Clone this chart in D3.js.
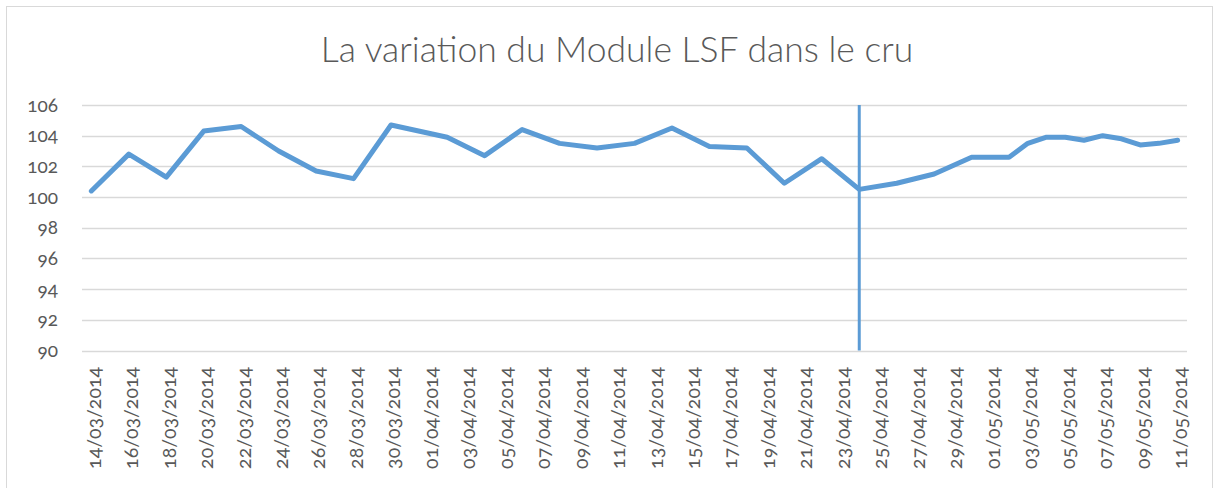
<!DOCTYPE html>
<html>
<head>
<meta charset="utf-8">
<script src="https://cdn.jsdelivr.net/npm/d3@7"></script>
<style>
  html, body { margin: 0; padding: 0; background: #fff; }
  svg text { font-family: Lato, "Open Sans", "DejaVu Sans", sans-serif; fill: #595959; font-variant-numeric: oldstyle-nums; }
</style>
</head>
<body>
<svg id="chart" width="1219" height="488"></svg>
<script>
const title = "La variation du Module LSF dans le cru";
const startDate = "2014-03-14";
const endDate = "2014-05-11";
const dates = [
  "2014-03-14","2014-03-16","2014-03-18","2014-03-20","2014-03-22","2014-03-24","2014-03-26","2014-03-28","2014-03-30",
  "2014-04-02","2014-04-04","2014-04-06","2014-04-08","2014-04-10","2014-04-12","2014-04-14","2014-04-16","2014-04-18",
  "2014-04-20","2014-04-22","2014-04-24","2014-04-26","2014-04-28","2014-04-30","2014-05-02","2014-05-03","2014-05-04",
  "2014-05-05","2014-05-06","2014-05-07","2014-05-08","2014-05-09","2014-05-10","2014-05-11"
];
const values = [
  100.4, 102.8, 101.3, 104.3, 104.6, 103.0, 101.7, 101.2, 104.7,
  103.9, 102.7, 104.4, 103.5, 103.2, 103.5, 104.5, 103.3, 103.2,
  100.9, 102.5, 100.5, 100.9, 101.5, 102.6, 102.6, 103.5, 103.9,
  103.9, 103.7, 104.0, 103.8, 103.4, 103.5, 103.7
];
const markerDate = "2014-04-24";
const markerRange = [90, 106];
const yTicks = [90, 92, 94, 96, 98, 100, 102, 104, 106];
const labelStepDays = 2;

const svg = d3.select("#chart");
const parse = d3.utcParse("%Y-%m-%d");
const fmt = d3.utcFormat("%d/%m/%Y");
const DAY = 86400000;

const t0 = parse(startDate), t1 = parse(endDate);
const x = d3.scaleUtc()
  .domain([new Date(+t0 - DAY / 2), new Date(+t1 + DAY / 2)])
  .range([82, 1187]);
const y = d3.scaleLinear().domain([90, 106]).range([350.5, 105]);

// chart border
svg.append("rect").attr("x", 6.5).attr("y", 6.5).attr("width", 1206).attr("height", 500)
  .attr("fill", "#fff").attr("stroke", "#D9D9D9").attr("stroke-width", 1);

// title
svg.append("text").attr("x", 617).attr("y", 62).attr("text-anchor", "middle")
  .style("font-size", "35.5px").style("font-weight", 300).text(title);

// gridlines
svg.append("g").selectAll("line").data(yTicks).join("line")
  .attr("x1", 82).attr("x2", 1187)
  .attr("y1", d => Math.round(y(d)) + 0.5).attr("y2", d => Math.round(y(d)) + 0.5)
  .attr("stroke", "#D9D9D9").attr("stroke-width", 1.5);

// y axis labels
const yAxis = d3.axisLeft(y).tickValues(yTicks).tickSize(0).tickPadding(0);
const gy = svg.append("g").attr("transform", "translate(58,0)").call(yAxis);
gy.select(".domain").remove();
gy.selectAll("text").style("font-size", "19px").attr("fill", "#595959");

// x axis labels
const labelDates = d3.range(0, (t1 - t0) / DAY + 1, labelStepDays).map(k => new Date(+t0 + k * DAY));
const xAxis = d3.axisBottom(x).tickValues(labelDates).tickFormat(fmt).tickSize(0).tickPadding(0);
const gx = svg.append("g").attr("transform", "translate(0,351)").call(xAxis);
gx.select(".domain").remove();
gx.selectAll("text")
  .style("font-size", "19.5px")
  .attr("fill", "#595959")
  .attr("text-anchor", "end")
  .attr("transform", "translate(2,16) rotate(-90)")
  .attr("x", 0).attr("y", 0).attr("dy", "0.35em");

// line
const pts = dates.map((d, i) => ({ t: parse(d), v: values[i] }));
svg.append("path").datum(pts)
  .attr("fill", "none").attr("stroke", "#5B9BD5").attr("stroke-width", 5)
  .attr("stroke-linejoin", "round").attr("stroke-linecap", "round")
  .attr("d", d3.line().x(d => x(d.t)).y(d => y(d.v)));

// vertical marker
const md = parse(markerDate);
svg.append("line")
  .attr("x1", x(md)).attr("x2", x(md))
  .attr("y1", y(markerRange[1])).attr("y2", y(markerRange[0]))
  .attr("stroke", "#5B9BD5").attr("stroke-width", 3);
</script>
</body>
</html>
